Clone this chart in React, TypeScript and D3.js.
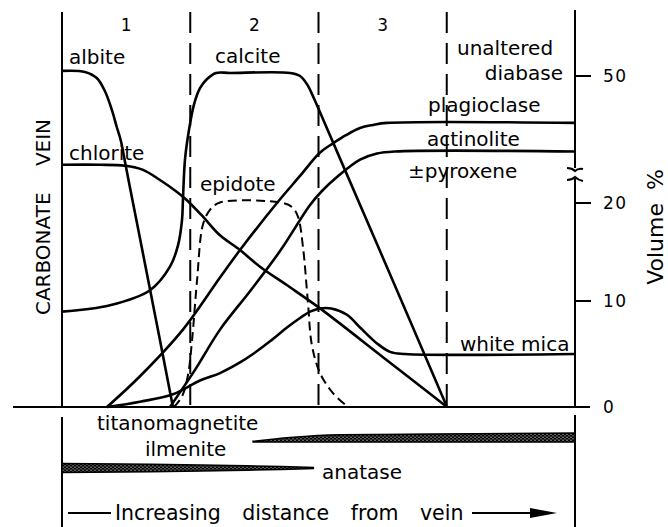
import React, { useEffect, useRef } from 'react';
import * as d3 from 'd3';

type Pt = [number, number];

// x: distance from vein in zone widths (0 = vein wall, 4 = unaltered diabase edge)
// y: volume %
const zoneNames = ['1', '2', '3'];
const zoneBounds = [1, 2, 3];
const volumeTicks = [0, 10, 20, 50];

const albite: Pt[] = [
    [0, 50.5], [0.179, 50.4], [0.271, 49.8], [0.335, 48.5], [0.388, 46.7], [0.427, 45.0],
    [0.458, 43.7], [0.491, 41.6], [0.53, 32.4], [0.608, 16.4], [0.686, 11.2], [0.764, 6.3], [0.865, 0]
];
const chlorite: Pt[] = [
    [0, 41.3], [0.296, 41.3], [0.491, 41.2], [0.632, 40.8], [0.764, 38.4], [0.894, 29.0],
    [0.972, 22.4], [1.099, 18.6], [1.232, 16.7], [1.388, 15.2], [1.544, 13.5], [1.778, 11.4],
    [2.012, 9.3], [2.503, 4.7], [3.002, 0]
];
const calcite: Pt[] = [
    [0, 9.0], [0.374, 9.6], [0.686, 11.1], [0.842, 13.5], [0.905, 15.7], [0.936, 18.3],
    [0.943, 22.4], [0.959, 41.8], [0.99, 44.7], [1.029, 47.2], [1.076, 48.8], [1.131, 49.7],
    [1.201, 50.3], [1.31, 50.3], [1.778, 50.3], [1.856, 50.0], [1.91, 49.2], [1.965, 47.8],
    [2.027, 46.0], [2.168, 41.9], [2.519, 13.9], [3.002, 0]
];
const plagioclase: Pt[] = [
    [0.351, 0], [0.608, 2.9], [0.943, 7.3], [1.232, 12.4], [1.388, 15.2], [1.676, 20.0],
    [1.856, 40.2], [2.012, 42.5], [2.113, 43.4], [2.214, 44.2], [2.324, 44.9], [2.425, 45.2],
    [2.534, 45.4], [4, 45.4]
];
const actinolite: Pt[] = [
    [0.842, 0], [1.037, 3.5], [1.232, 7.3], [1.466, 11.0], [1.7, 15.1], [1.934, 19.8],
    [2.027, 29.6], [2.144, 40.1], [2.324, 41.8], [2.456, 42.4], [2.596, 42.6], [4, 42.6]
];
const whiteMica: Pt[] = [
    [0.351, 0], [0.608, 0.5], [0.865, 1.2], [1.076, 2.5], [1.232, 3.2], [1.388, 4.2],
    [1.489, 5.0], [1.622, 6.2], [1.754, 7.5], [1.856, 8.4], [1.934, 9.0], [2.012, 9.3],
    [2.1, 9.3], [2.222, 8.7], [2.324, 7.5], [2.456, 6.0], [2.558, 5.2], [2.674, 5.0], [4, 5.0]
];
const epidote: Pt[] = [
    [0.873, 0], [0.936, 1.0], [0.982, 3.0], [1.014, 6.3], [1.053, 12.1], [1.099, 17.8],
    [1.154, 19.3], [1.232, 20.4], [1.7, 20.4], [1.793, 19.6], [1.84, 18.6], [1.879, 15.5],
    [1.918, 9.8], [1.949, 5.8], [2.012, 3.2], [2.113, 1.3], [2.23, 0]
];

// opaque minerals: distance, relative amount
const ilmeniteBar: Pt[] = [[1.49, 0.08], [1.78, 0.5], [2.17, 0.8], [4, 1]];
const anataseBar: Pt[] = [[0, 1], [0.69, 0.85], [1.31, 0.55], [1.71, 0.35], [1.96, 0.12]];

export default function App() {
    const svgRef = useRef<SVGSVGElement>(null);

    useEffect(() => {
        const svg = d3.select(svgRef.current);
        svg.selectAll('*').remove();

        const font = "'DejaVu Sans', sans-serif";
        const x = d3.scaleLinear().domain([0, 4]).range([62, 575]);
        // broken axis: 0-20 below the break, 40-50 above it
        const y = d3.scaleLinear().domain([0, 10, 20, 40, 50]).range([407, 301, 203, 178, 76]);
        const thick = d3.scaleLinear().domain([0, 1]).range([0, 9]);

        const g = svg.append('g');

        // stipple for the opaque-mineral bars
        const pat = svg.append('defs').append('pattern')
            .attr('id', 'stipple')
            .attr('patternUnits', 'userSpaceOnUse')
            .attr('width', 4)
            .attr('height', 3);
        pat.append('rect').attr('width', 4).attr('height', 3).attr('fill', '#000');
        pat.append('circle').attr('cx', 1).attr('cy', 0.8).attr('r', 0.6).attr('fill', '#fff');
        pat.append('circle').attr('cx', 3).attr('cy', 2.2).attr('r', 0.6).attr('fill', '#fff');

        const stroke = (sel: any, w = 2) => sel.attr('stroke', '#000').attr('stroke-width', w).attr('fill', 'none');

        // frame
        stroke(g.append('line').attr('x1', 13).attr('x2', x(4) + 15).attr('y1', y(0)).attr('y2', y(0)), 2);
        stroke(g.append('line').attr('x1', x(0)).attr('x2', x(0)).attr('y1', 12).attr('y2', y(0)), 2);
        stroke(g.append('line').attr('x1', x(0)).attr('x2', x(0)).attr('y1', y(0) + 10).attr('y2', 527), 2);
        stroke(g.append('line').attr('x1', x(4)).attr('x2', x(4)).attr('y1', 10).attr('y2', 168), 2);
        stroke(g.append('line').attr('x1', x(4)).attr('x2', x(4)).attr('y1', 179).attr('y2', y(0)), 2);
        stroke(g.append('line').attr('x1', x(4)).attr('x2', x(4)).attr('y1', y(0) + 8).attr('y2', 527), 2);

        // axis break marks
        const bx = x(4);
        stroke(g.append('path').attr('d', `M${bx - 8},168 Q${bx - 3},168 ${bx},171 Q${bx + 3},168 ${bx + 8},169`), 2);
        stroke(g.append('path').attr('d', `M${bx - 8},180 Q${bx - 3},180 ${bx},177 Q${bx + 3},180 ${bx + 8},181`), 2);

        // ticks
        volumeTicks.forEach((t) => {
            if (t > 0) stroke(g.append('line').attr('x1', x(4)).attr('x2', x(4) + 16).attr('y1', y(t)).attr('y2', y(t)), 2);
            g.append('text')
                .attr('x', x(4) + 28)
                .attr('y', y(t))
                .attr('dy', '0.36em')
                .attr('font-family', font)
                .attr('font-size', 17)
                .attr('letter-spacing', 1.5)
                .text(t);
        });

        // zone boundaries
        zoneBounds.forEach((b) => {
            stroke(g.append('line').attr('x1', x(b)).attr('x2', x(b)).attr('y1', 12).attr('y2', y(0)), 2)
                .attr('stroke-dasharray', '21,10');
        });
        zoneNames.forEach((z, i) => {
            g.append('text')
                .attr('x', x(i + 0.5))
                .attr('y', 31)
                .attr('text-anchor', 'middle')
                .attr('font-family', font)
                .attr('font-size', 17)
                .text(z);
        });

        // mineral curves
        const line = d3.line<Pt>()
            .x((d) => x(d[0]))
            .y((d) => y(d[1]))
            .curve(d3.curveCatmullRom.alpha(0.5));

        [albite, chlorite, calcite, plagioclase, actinolite, whiteMica].forEach((pts) => {
            stroke(g.append('path').attr('d', line(pts)), 2.6).attr('stroke-linejoin', 'round');
        });
        stroke(g.append('path').attr('d', line(epidote)), 2).attr('stroke-dasharray', '9,5');

        // bars
        const ilmBottom = 442;
        g.append('path')
            .attr('d', d3.area<Pt>()
                .x((d) => x(d[0]))
                .y0(ilmBottom)
                .y1((d) => ilmBottom - thick(d[1]))
                .curve(d3.curveMonotoneX)(ilmeniteBar))
            .attr('fill', 'url(#stipple)')
            .attr('stroke', '#000')
            .attr('stroke-width', 1.5);

        const anaMid = 468;
        g.append('path')
            .attr('d', d3.area<Pt>()
                .x((d) => x(d[0]))
                .y0((d) => anaMid + thick(d[1]) / 2)
                .y1((d) => anaMid - thick(d[1]) / 2)
                .curve(d3.curveMonotoneX)(anataseBar))
            .attr('fill', 'url(#stipple)')
            .attr('stroke', '#000')
            .attr('stroke-width', 1.5);

        // labels
        const labels: [string, number, number, string][] = [
            ['albite', 69, 64, 'start'],
            ['calcite', 215, 63, 'start'],
            ['chlorite', 69, 160, 'start'],
            ['epidote', 200, 191, 'start'],
            ['unaltered', 457, 55, 'start'],
            ['diabase', 563, 80, 'end'],
            ['plagioclase', 428, 112, 'start'],
            ['actinolite', 427, 146, 'start'],
            ['\u00b1pyroxene', 408, 178, 'start'],
            ['white mica', 460, 351, 'start'],
            ['titanomagnetite', 97, 430, 'start'],
            ['ilmenite', 145, 456, 'start'],
            ['anatase', 322, 479, 'start']
        ];
        labels.forEach(([t, lx, ly, anchor]) => {
            g.append('text')
                .attr('x', lx)
                .attr('y', ly)
                .attr('text-anchor', anchor)
                .attr('font-family', font)
                .attr('font-size', 20)
                .text(t);
        });

        g.append('text')
            .attr('transform', 'translate(50,217) rotate(-90)')
            .attr('text-anchor', 'middle')
            .attr('font-family', font)
            .attr('font-size', 20)
            .attr('word-spacing', 20)
            .text('CARBONATE VEIN');

        g.append('text')
            .attr('transform', 'translate(663,227) rotate(-90)')
            .attr('text-anchor', 'middle')
            .attr('font-family', font)
            .attr('font-size', 22)
            .attr('word-spacing', 6)
            .text('Volume %');

        // distance arrow
        const ay = 513;
        stroke(g.append('line').attr('x1', 68).attr('x2', 111).attr('y1', ay).attr('y2', ay), 2);
        g.append('text')
            .attr('x', 115)
            .attr('y', 520)
            .attr('font-family', font)
            .attr('font-size', 20.5)
            .attr('word-spacing', 15)
            .text('Increasing distance from vein');
        stroke(g.append('line').attr('x1', 472).attr('x2', x(4) - 40).attr('y1', ay).attr('y2', ay), 2);
        g.append('path')
            .attr('d', `M${x(4) - 45},${ay - 5} L${x(4) - 18},${ay} L${x(4) - 45},${ay + 5} Z`)
            .attr('fill', '#000');
    }, []);

    return (
        <svg
            ref={svgRef}
            width={668}
            height={527}
            style={{ position: 'absolute', left: 0, top: 0, background: '#fff' }}
        />
    );
}
